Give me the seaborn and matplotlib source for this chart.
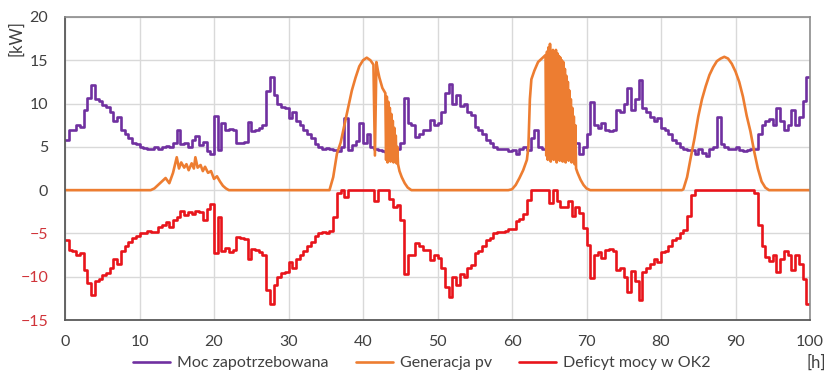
import numpy as np
import pandas as pd
import matplotlib
matplotlib.use("Agg")
import matplotlib.pyplot as plt
import seaborn as sns

# ---------------- data ----------------
hours = [i * 0.5 for i in range(201)]

demand_kw = [
    5.8, 6.9, 7.0, 7.5, 7.3, 9.2, 10.7, 12.1, 10.5, 10.3,
    9.8, 9.6, 9.0, 8.0, 8.5, 7.0, 6.5, 6.0, 5.5, 5.3,
    5.0, 4.9, 4.7, 4.8, 5.0, 4.8, 5.0, 5.1, 5.0, 5.5,
    6.9, 5.3, 5.5, 5.0, 5.8, 6.2, 5.2, 5.6, 4.5, 4.2,
    8.6, 4.6, 7.7, 7.0, 7.1, 6.9, 5.4, 5.5, 5.6, 7.9,
    6.8, 6.9, 7.2, 7.5, 11.5, 13.1, 11.0, 10.0, 9.6, 9.5,
    8.3, 9.0, 8.0, 7.5, 7.0, 6.5, 6.0, 5.3, 5.0, 4.8,
    4.9, 4.7, 4.6, 4.5, 5.0, 8.3, 4.6, 5.2, 5.7, 7.8,
    5.5, 6.5, 5.0, 4.8, 4.6, 4.5, 4.4, 4.2, 5.0, 4.8,
    5.5, 10.7, 7.8, 7.5, 6.1, 6.5, 6.9, 6.9, 8.1, 7.5,
    7.8, 9.0, 11.2, 12.3, 10.0, 11.0, 9.7, 10.0, 9.0, 8.7,
    7.3, 7.0, 6.5, 5.8, 5.5, 5.0, 4.8, 4.8, 4.7, 4.5,
    4.6, 4.2, 4.7, 5.0, 4.6, 6.0, 7.0, 5.0, 4.7, 5.0,
    4.5, 5.0, 4.4, 5.0, 5.5, 5.0, 6.5, 5.5, 4.2, 5.0,
    6.5, 10.2, 7.5, 7.2, 7.8, 6.9, 6.8, 7.0, 9.2, 9.0,
    10.0, 11.8, 9.3, 10.5, 12.7, 9.5, 9.0, 8.5, 8.0, 8.3,
    7.2, 7.0, 6.5, 5.8, 5.5, 5.0, 4.7, 4.6, 4.6, 4.2,
    4.8, 4.3, 4.0, 4.7, 5.0, 8.5, 5.3, 5.0, 4.8, 4.8,
    5.0, 4.6, 4.5, 4.6, 4.7, 4.8, 6.5, 7.5, 8.0, 8.2,
    7.5, 9.5, 8.0, 7.0, 7.5, 9.2, 7.5, 8.5, 10.3, 13.1,
    13.1,
]

deficit_kw = [
    -5.8, -6.9, -7.0, -7.5, -7.3, -9.2, -10.7, -12.1, -10.5, -10.3,
    -9.8, -9.6, -9.0, -8.0, -8.5, -7.0, -6.5, -6.0, -5.5, -5.3,
    -5.0, -4.9, -4.7, -4.8, -4.8, -4.2, -4.0, -3.7, -4.2, -3.5,
    -3.1, -2.4, -2.9, -2.5, -2.7, -2.4, -2.5, -3.4, -2.2, -1.6,
    -7.3, -3.1, -7.0, -6.7, -7.1, -6.9, -5.4, -5.5, -5.6, -7.9,
    -6.8, -6.9, -7.2, -7.5, -11.5, -13.1, -11.0, -10.0, -9.6, -9.5,
    -8.3, -9.0, -8.0, -7.5, -7.0, -6.5, -6.0, -5.3, -5.0, -4.8,
    -4.9, -4.7, -3.1, -0.3, 0.0, -0.8, 0.0, 0.0, 0.0, 0.0,
    0.0, 0.0, 0.0, -1.2, 0.0, 0.0, 0.0, -1.0, -2.0, -1.7,
    -3.5, -9.7, -7.5, -7.5, -6.1, -6.5, -6.9, -6.9, -8.1, -7.5,
    -7.8, -9.0, -11.2, -12.3, -10.0, -11.0, -9.7, -10.0, -9.0, -8.7,
    -7.3, -7.0, -6.5, -5.8, -5.5, -5.0, -4.8, -4.8, -4.7, -4.5,
    -4.5, -3.6, -3.3, -2.7, -1.1, 0.0, 0.0, 0.0, 0.0, 0.0,
    -1.5, 0.0, -1.2, -2.0, -1.9, -1.2, -3.0, -2.0, -2.6, -4.4,
    -6.3, -10.2, -7.5, -7.2, -7.8, -6.9, -6.8, -7.0, -9.2, -9.0,
    -10.0, -11.8, -9.3, -10.5, -12.7, -9.5, -9.0, -8.5, -8.0, -8.3,
    -7.2, -7.0, -6.5, -5.8, -5.5, -5.0, -4.6, -3.0, -0.6, 0.0,
    0.0, 0.0, 0.0, 0.0, 0.0, 0.0, 0.0, 0.0, 0.0, 0.0,
    0.0, 0.0, 0.0, 0.0, 0.0, -0.3, -4.0, -6.5, -7.7, -8.2,
    -7.5, -9.5, -8.0, -7.0, -7.5, -9.2, -7.5, -8.5, -10.3, -13.1,
    -13.1,
]

pv_hours = [
    0, 11.5, 12.0, 12.5, 13.0, 13.5, 14.0, 14.5, 15.0, 15.3, 15.6, 16.0, 16.3,
    16.6, 17.0, 17.3, 17.5, 17.8, 18.2, 18.5, 18.8, 19.2, 19.6, 20.0, 20.4,
    20.8, 21.2, 21.6, 22.0,
    35.5, 36.0, 36.5, 37.0, 37.5, 38.0, 38.5, 39.0, 39.5, 40.0, 40.5, 41.0,
    41.4, 41.6, 41.8, 42.0, 42.2, 42.4, 42.6, 42.8,
    43.0, 43.1, 43.2, 43.3, 43.4, 43.5, 43.6, 43.7, 43.8, 43.9, 44.0, 44.1,
    44.2, 44.3, 44.4, 44.5, 44.6, 44.7, 44.9, 45.2, 45.6, 46.0, 46.5,
    59.5, 60.0, 60.5, 61.0, 61.5, 62.0, 62.2, 62.4, 62.6, 63.0, 63.5, 64.0, 64.5,
    64.6, 64.7, 64.8, 64.9, 65.0, 65.1, 65.2, 65.3, 65.4, 65.5, 65.6, 65.7,
    65.8, 65.9, 66.0, 66.1, 66.2, 66.3, 66.4, 66.5, 66.6, 66.7, 66.8, 66.9,
    67.0, 67.1, 67.2, 67.3, 67.4, 67.5, 67.6, 67.7, 67.8, 67.9, 68.0, 68.1,
    68.2, 68.3, 68.4, 68.5, 68.6,
    68.8, 69.2, 69.6, 70.0, 70.5,
    82.8, 83.0, 83.5, 84.0, 84.5, 85.0, 85.5, 86.0, 86.5, 87.0, 87.5, 88.0,
    88.5, 89.0, 89.5, 90.0, 90.5, 91.0, 91.5, 92.0, 92.5, 93.0, 93.5, 94.0,
    94.5, 100.0,
]

pv_kw = [
    0, 0, 0.2, 0.6, 1.0, 1.4, 0.8, 2.0, 3.8, 2.5, 3.2, 2.6, 3.0,
    2.3, 3.1, 2.5, 3.8, 2.6, 2.9, 2.2, 2.7, 2.0, 2.2, 1.3, 1.6,
    1.0, 0.5, 0.2, 0,
    0, 1.5, 4.2, 5.5, 7.5, 9.5, 11.5, 13.0, 14.3, 15.0, 15.3, 15.0,
    14.5, 4.0, 14.8, 13.8, 13.0, 12.4, 11.8, 11.5,
    11.2, 3.5, 10.8, 3.2, 10.2, 3.8, 9.5, 3.3, 8.8, 3.6, 8.0, 3.2,
    7.2, 3.5, 6.3, 3.1, 5.0, 3.0, 2.2, 1.5, 0.8, 0.3, 0,
    0, 0.1, 0.6, 1.4, 2.3, 3.5, 5.0, 10.5, 12.8, 13.8, 14.8, 15.2, 15.6,
    4.0, 16.0, 3.5, 16.5, 4.2, 16.9, 3.3, 16.0, 12.3, 16.2, 3.5, 16.0,
    4.0, 16.2, 3.2, 15.8, 3.8, 15.5, 3.4, 15.3, 4.1, 15.0, 3.3, 14.8,
    3.6, 14.0, 3.2, 13.2, 3.8, 12.5, 3.4, 11.5, 3.7, 10.5, 3.2, 9.5,
    3.5, 8.5, 3.0, 7.5, 2.5,
    2.0, 1.2, 0.6, 0.2, 0,
    0, 0.1, 1.5, 3.8, 6.0, 8.5, 10.5, 12.0, 13.3, 14.2, 14.9, 15.2,
    15.4, 15.2, 14.6, 13.7, 12.5, 10.8, 8.6, 6.8, 4.5, 2.5, 1.0, 0.3,
    0, 0,
]

labels = ["Moc zapotrzebowana", "Generacja pv", "Deficyt mocy w OK2"]
colors = ["#7030a0", "#ed7d31", "#e8141b"]
x_ticks = [0, 10, 20, 30, 40, 50, 60, 70, 80, 90, 100]
y_ticks = [-15, -10, -5, 0, 5, 10, 15, 20]

# ---------------- plot ----------------
sns.set_theme(style="white")
plt.rcParams["font.family"] = ["Lato", "DejaVu Sans"]

df_main = pd.DataFrame({"h": hours, "demand": demand_kw, "deficit": deficit_kw})
df_pv = pd.DataFrame({"h": pv_hours, "pv": pv_kw})

fig = plt.figure(figsize=(8.27, 3.73), dpi=100)
ax = fig.add_axes([65 / 827, 1 - 320 / 373, (810 - 65) / 827, (320 - 17) / 373])

lw = 1.9
sns.lineplot(data=df_main, x="h", y="demand", ax=ax, color=colors[0], lw=lw,
             drawstyle="steps-post", estimator=None, sort=False, label=labels[0])
sns.lineplot(data=df_pv, x="h", y="pv", ax=ax, color=colors[1], lw=lw,
             estimator=None, sort=False, label=labels[1])
sns.lineplot(data=df_main, x="h", y="deficit", ax=ax, color=colors[2], lw=lw,
             drawstyle="steps-post", estimator=None, sort=False, label=labels[2])

ax.set_xlim(0, 100)
ax.set_ylim(-15, 20)
ax.set_xticks(x_ticks)
ax.set_yticks(y_ticks)
ax.set_xlabel("")
ax.set_ylabel("")
ax.grid(True, color="#d9d9d9", lw=1.0)
ax.set_axisbelow(True)
ax.tick_params(axis="both", length=0, labelsize=11.5, colors="#404040")
ax.tick_params(axis="x", pad=11)
ax.tick_params(axis="y", pad=12)
for lab, v in zip(ax.get_yticklabels(), y_ticks):
    lab.set_color("#d0343a" if v < 0 else "#404040")

for side in ["top", "right"]:
    ax.spines[side].set_color("#8c8c8c")
    ax.spines[side].set_linewidth(1.2)
for side in ["left", "bottom"]:
    ax.spines[side].set_color("#595959")
    ax.spines[side].set_linewidth(1.3)

ax.get_legend().remove()
handles, labs = ax.get_legend_handles_labels()
fig.legend(handles, labs, loc="center", bbox_to_anchor=(422 / 827, 1 - 363 / 373),
           ncol=3, frameon=False, fontsize=11.5, handlelength=2.3,
           columnspacing=1.7, handletextpad=0.45, labelcolor="#404040")

fig.text(16 / 827, 1 - 38 / 373, "[kW]", rotation=90, ha="center", va="center",
         fontsize=12, color="#404040")
fig.text(816 / 827, 1 - 363 / 373, "[h]", ha="center", va="center",
         fontsize=12, color="#404040")

fig.savefig("out.png", dpi=100)
